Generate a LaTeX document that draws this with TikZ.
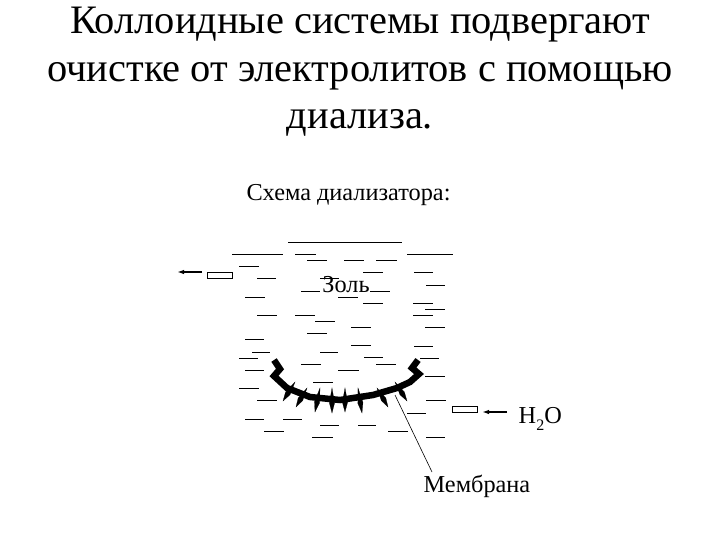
\documentclass[tikz,border=0pt]{standalone}
\usepackage{fontspec}
\setmainfont{Liberation Serif}
\usetikzlibrary{arrows.meta,calc}
\tikzset{
 titletext/.style={font=\fontsize{40.4}{47.5}\selectfont,align=center,inner sep=0pt},
 labeltext/.style={font=\fontsize{24.3}{28}\selectfont,inner sep=0pt,anchor=base},
 fluid/.style={line width=0.8pt,black},
 tube/.style={draw=black,line width=0.9pt,fill=white},
 flow/.style={line width=1.5pt,-{Latex[length=7pt,width=4.5pt]}},
 leader/.style={line width=0.6pt},
 membrane/.style={line width=6.5pt,line join=miter,black},
 spike/.style={fill=black,draw=black,line width=0.2pt}
}
\begin{document}
\begin{tikzpicture}[x=1pt,y=-1pt]
\useasboundingbox (0,0) rectangle (720,540);
\node[titletext] (title) at (360,72) {Коллоидные системы подвергают\\очистке от электролитов с помощью\\диализа.};
\node[labeltext] (schema) at (348.5,201) {Схема диализатора:};
\foreach \a/\b/\y in {288/402/242,232/283/254,295/316/254,407/453/254,307/327/260,344/364/260,376/397/260,
 239/259/266,363/383/272,414/433/272,257/276/278,320/339/278,426/445/285,301/320/291,370/390/291,
 245/265/297,338/358/297,363/383/303,413/433/303,425/445/309,257/277/315,295/315/315,413/433/315,
 315/335/321,351/371/327,425/445/327,307/327/333,245/264/339,351/371/345,414/433/346,252/270/352,320/338/352,
 239/258/358,364/383/357,420/439/358,301/321/364,376/396/364,245/264/370,338/359/370,425/445/376,
 313/333/382,239/259/388,257/277/400,426/446/400,407/426/413,245/264/419,283/302/419,320/339/425,358/376/425,
 264/284/431,388/408/431,312/333/437,426/445/437}
 {\draw[fluid] (\a,\y) -- (\b,\y);}
\node[labeltext] (sol) at (346,292) {Золь};
\foreach \tx/\ty/\bx/\by in {295/382/283/401,307/388/296/407,320/388/315/412,332/388/332/413,345/388/345/412,358/388/362/413,377/388/388/407,395/382/407/401}{
 \fill[spike] (\tx,\ty) -- ($(\tx,\ty)!0.6!(\bx,\by)!2.6pt!90:(\bx,\by)$) -- (\bx,\by) -- ($(\tx,\ty)!0.6!(\bx,\by)!2.6pt!-90:(\bx,\by)$) -- cycle;
}
\draw[membrane] (274,360) -- (280,369) -- (274,376) -- (287,388) -- (310,397) -- (340,400) -- (373,395) -- (397,388) -- (410,382) -- (419,374) -- (412,368) -- (418,360);
\node[tube,minimum width=25pt,minimum height=6pt,inner sep=0pt] (left) at (219.5,275) {};
\node[tube,minimum width=25pt,minimum height=6pt,inner sep=0pt] (right) at (464.5,409.5) {};
\coordinate (leftout) at (177,272);
\coordinate (leftin) at (202,272);
\coordinate (rightin) at (507,412);
\coordinate (righttip) at (482,412);
\draw[flow] (leftin) -- (leftout);
\draw[flow] (rightin) -- (righttip);
\node[labeltext,anchor=base west] (water) at (518.5,423) {H\raisebox{-7pt}{\fontsize{16}{16}\selectfont 2}O};
\node[labeltext,anchor=base west] (memb) at (423.5,492) {Мембрана};
\coordinate (mempt) at (395,395);
\draw[leader] (mempt) -- (432,472);
\end{tikzpicture}
\end{document}
